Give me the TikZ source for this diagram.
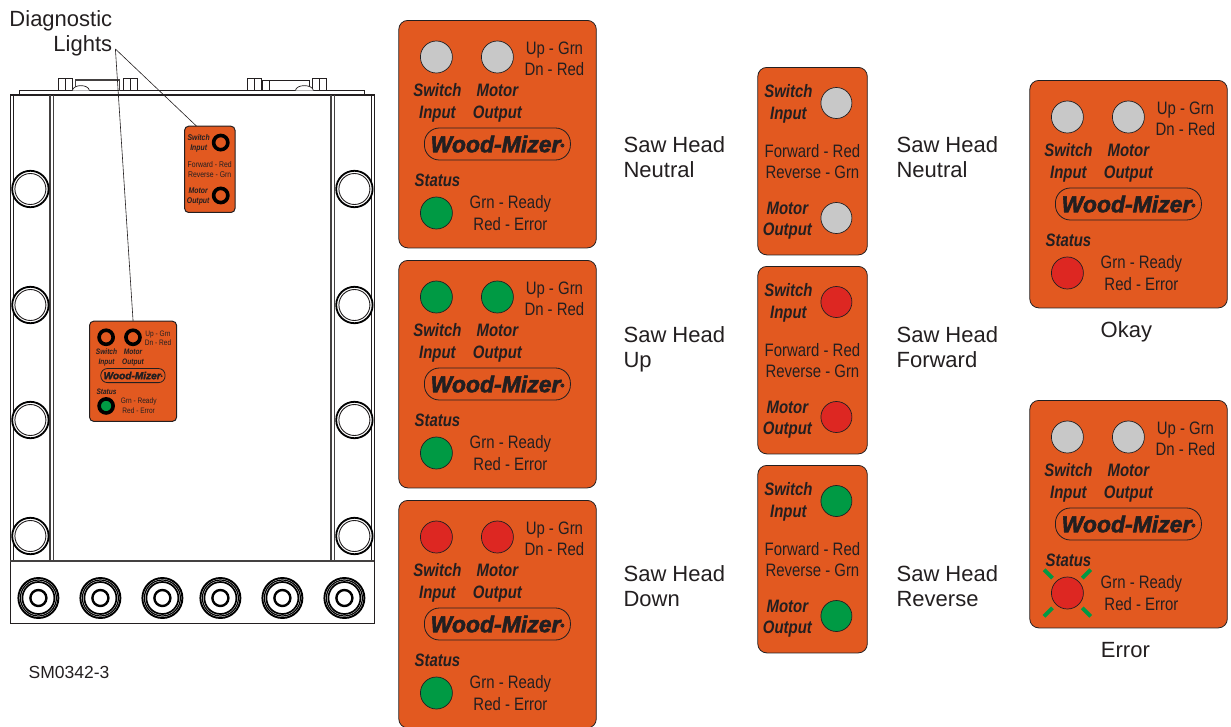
\documentclass[tikz,border=0pt]{standalone}
\usepackage{fontspec}
\setmainfont{Liberation Sans}
\newfontfamily\condf[FakeStretch=0.83]{Liberation Sans}
\newfontfamily\logof[FakeBold=2.5]{Liberation Sans}
\usetikzlibrary{calc}
\definecolor{PanelOrange}{RGB}{226,89,32}
\definecolor{LedGray}{RGB}{200,200,200}
\definecolor{LedGreen}{RGB}{0,154,68}
\definecolor{LedRed}{RGB}{221,39,34}
\definecolor{InkDark}{RGB}{35,31,32}
\newcommand{\panelfont}{\condf\fontsize{18}{20}\selectfont}
\newcommand{\tagfont}{\condf\bfseries\itshape\fontsize{18}{20}\selectfont}
\newcommand{\logofont}{\logof\bfseries\itshape\fontsize{23}{25}\selectfont}
\tikzset{
  panelbox/.style={draw=InkDark, fill=PanelOrange, line width=0.8pt, rounded corners=9pt, anchor=north west, inner sep=0pt, transform shape},
  led/.style={circle, draw=InkDark, line width=0.7pt, inner sep=0pt, minimum size=#1, transform shape},
  ptext/.style={font=\panelfont, text=InkDark, inner sep=0pt, text height=13pt, text depth=0pt, transform shape},
  ptag/.style={font=\tagfont, text=InkDark, inner sep=0pt, text height=13pt, text depth=0pt, transform shape},
  plogo/.style={draw=InkDark, line width=0.8pt, rounded corners=15pt, minimum width=146pt, minimum height=32pt, font=\logofont, text=InkDark, inner sep=0pt, transform shape},
  biglabel/.style={font=\fontsize{22}{25}\selectfont, text=InkDark, align=left, anchor=west, inner sep=0pt},
  ringled/.style={led/.append style={line width=3.6pt, draw=black}, plogo/.append style={rounded corners=6.5pt}, panelbox/.append style={rounded corners=4pt, line width=1pt}},
  ray/.style={draw=LedGreen, line width=3.8pt},
  leader/.style={draw=InkDark, line width=0.6pt},
  cab/.style={draw=InkDark, line width=0.7pt},
  cabthick/.style={draw=InkDark!85, line width=1.6pt}
}
% big panel: name, colours of the three lights
\newcommand{\bigpanel}[4]{
  \node[panelbox, minimum width=197.5pt, minimum height=227.5pt] (#1) at (0,0) {};
  \node[led=32pt, fill=#2] (#1sw) at (38,37) {};
  \node[led=32pt, fill=#3] (#1mo) at (99,37) {};
  \node[led=32pt, fill=#4] (#1st) at (38,193) {};
  \node[ptext] (#1up) at (156,28) {Up - Grn};
  \node[ptext] (#1dn) at (156,49) {Dn - Red};
  \node[ptag] (#1a) at (39,70) {Switch};
  \node[ptag] (#1b) at (39,92) {Input};
  \node[ptag] (#1c) at (99,70) {Motor};
  \node[ptag] (#1d) at (99,92) {Output};
  \node[plogo] (#1logo) at (99,124) {Wood-Mizer\raisebox{5pt}{\fontsize{5}{5}\selectfont ®}};
  \node[ptag] (#1e) at (39,160) {Status};
  \node[ptext] (#1rd) at (112,182) {Grn - Ready};
  \node[ptext] (#1er) at (112,204) {Red - Error};
}
% narrow panel: name, colours of the two lights
\newcommand{\slimpanel}[3]{
  \node[panelbox, minimum width=109.5pt, minimum height=187.5pt] (#1) at (0,0) {};
  \node[led=31pt, fill=#2] (#1sw) at (79,36) {};
  \node[led=31pt, fill=#3] (#1mo) at (79,151) {};
  \node[ptag] (#1a) at (31,24) {Switch};
  \node[ptag] (#1b) at (31,46) {Input};
  \node[ptext] (#1fw) at (55,84) {Forward - Red};
  \node[ptext] (#1rv) at (55,105) {Reverse - Grn};
  \node[ptag] (#1c) at (30,141) {Motor};
  \node[ptag] (#1d) at (30,162) {Output};
}
\begin{document}
\begin{tikzpicture}[x=1pt, y=-1pt]
\useasboundingbox (0.6,0) rectangle (1231.6,726);

% cabinet
\draw[cab] (20,94) -- (20,90.5) -- (365,90.5) -- (365,94);
\draw[cab] (11,95) -- (375,95);
\draw[cab] (11,94) rectangle (375,623.5);
\draw[cab] (14,95) -- (14,561);
\draw[cabthick] (50.5,95) -- (50.5,561);
\draw[cabthick] (54,95) -- (54,561);
\draw[cabthick] (331.5,95) -- (331.5,561);
\draw[cabthick] (335,95) -- (335,561);
\draw[cab] (372,95) -- (372,561);
\draw[cabthick] (11,561) -- (375,561);
\foreach \tx in {59,66,124,131,248,255,313,320}
  \draw[cab] (\tx,78) rectangle ++(7,12.5);
\draw[cab] (263,80) rectangle (310,90.5);
\draw[cab] (270,80) -- (270,90.5);
\draw[cabthick] (76,90.5) -- (76,80) -- (120,80) -- (120,90.5);
\draw[cab, fill=white] (73,90.5) .. controls (74,84) and (89,84) .. (90,90.5);
\draw[cab, fill=white] (296,90.5) .. controls (297,84) and (313,84) .. (314,90.5);
\foreach \ry in {189,305,420,536} {
  \foreach \rx in {31,355} {
    \draw[fill=white, draw=black, line width=1.8pt] (\rx,\ry) circle (18.2);
    \draw[draw=InkDark, line width=0.9pt] (\rx,\ry) circle (15.5);
  }
}
\foreach \bx in {39,101,163,221,283,345} {
  \draw[black, line width=1.9pt] (\bx,598) circle (20);
  \draw[black, line width=1.2pt] (\bx,598) circle (18);
  \draw[black, line width=1.7pt] (\bx,598) circle (16);
  \draw[black, line width=2.4pt] (\bx,598) circle (8);
}
\node[font=\fontsize{17.5}{20}\selectfont, text=InkDark, inner sep=0pt, anchor=west] (code) at (29,672) {SM0342-3};

% panels on the cabinet
\begin{scope}[shift={(185,126)}, scale=0.46, ringled]
  \slimpanel{onslim}{PanelOrange}{PanelOrange}
\end{scope}
\begin{scope}[shift={(90,321)}, scale=0.44, ringled]
  \bigpanel{onbig}{PanelOrange}{PanelOrange}{LedGreen}
\end{scope}

\node[biglabel, align=right, anchor=east] (diag) at (113,33) {Diagnostic\\Lights};
\coordinate (leadstart) at (116,49);
\coordinate (leadtip) at (197,126);
\draw[leader] (leadstart) -- (leadtip);
\draw[leader] (leadstart) -- (onbig.north);

% big panels
\begin{scope}[shift={(399,20)}]
  \bigpanel{pa}{LedGray}{LedGray}{LedGreen}
\end{scope}
\begin{scope}[shift={(399,260)}]
  \bigpanel{pb}{LedGreen}{LedGreen}{LedGreen}
\end{scope}
\begin{scope}[shift={(399,500)}]
  \bigpanel{pc}{LedRed}{LedRed}{LedGreen}
\end{scope}
\begin{scope}[shift={(1030,80)}]
  \bigpanel{pd}{LedGray}{LedGray}{LedRed}
\end{scope}
\begin{scope}[shift={(1030,400)}]
  \bigpanel{pe}{LedGray}{LedGray}{LedRed}
\end{scope}
\foreach \ang in {45,135,225,315}
  \draw[ray] ($(pest)+(\ang:21)$) -- ($(pest)+(\ang:33)$);

% narrow panels
\begin{scope}[shift={(758,67)}]
  \slimpanel{sa}{LedGray}{LedGray}
\end{scope}
\begin{scope}[shift={(758,266)}]
  \slimpanel{sb}{LedRed}{LedRed}
\end{scope}
\begin{scope}[shift={(758,465)}]
  \slimpanel{sc}{LedGreen}{LedGreen}
\end{scope}

% captions
\node[biglabel] (capa) at (624,157.5) {Saw Head\\Neutral};
\node[biglabel] (capb) at (624,349.5) {Saw Head\\Up};
\node[biglabel] (capc) at (624,586.5) {Saw Head\\Down};
\node[biglabel] (capd) at (897,157.5) {Saw Head\\Neutral};
\node[biglabel] (cape) at (897,347.5) {Saw Head\\Forward};
\node[biglabel] (capf) at (897,586.5) {Saw Head\\Reverse};
\node[biglabel, anchor=center] (capg) at (1127,332) {Okay};
\node[biglabel, anchor=center] (caph) at (1126,650) {Error};
\end{tikzpicture}
\end{document}
